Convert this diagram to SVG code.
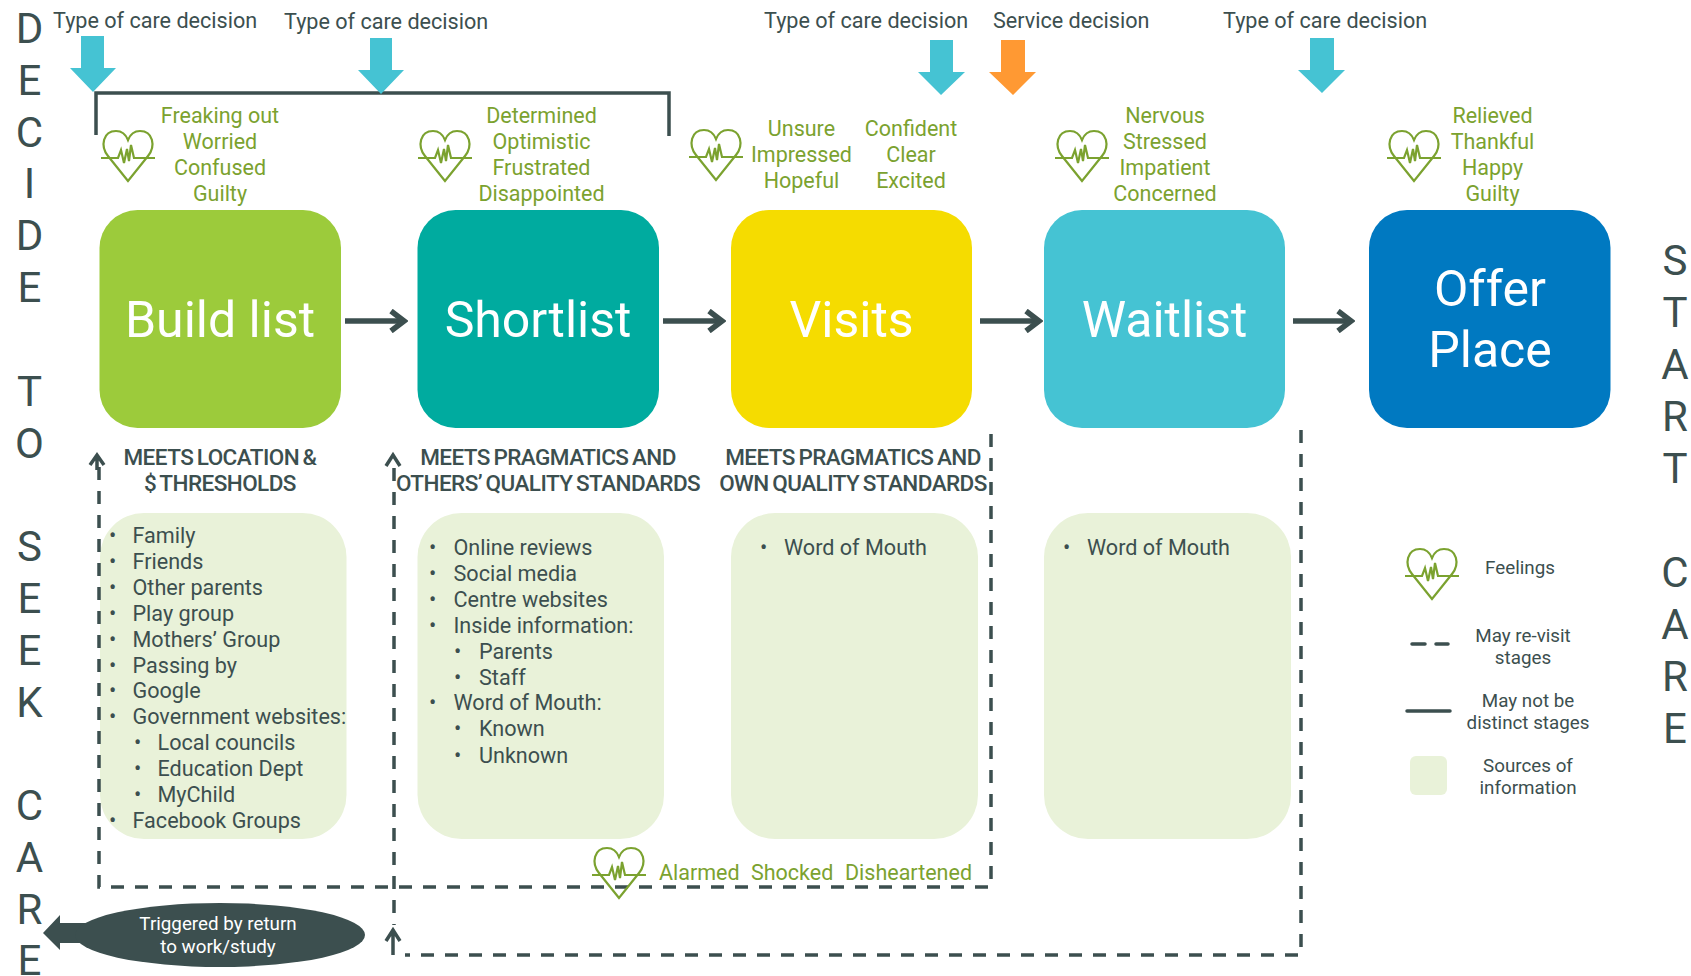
<svg xmlns="http://www.w3.org/2000/svg" width="1691" height="976" viewBox="0 0 1691 976">
<style>
text{font-family:Roboto,"Liberation Sans",sans-serif}
.big{font-size:50px;fill:#fff;text-anchor:middle}
.side{font-size:42px;fill:#3c4f4f;text-anchor:middle}
.dec{font-size:21.6px;fill:#3c4f4f}
.feel{font-size:21.5px;fill:#7ba22f;text-anchor:middle}
.hd{font-size:22.500px;font-weight:500;fill:#3c4f4f;text-anchor:middle;letter-spacing:-.55px;word-spacing:-1.5px}
.li{font-size:21.6px;fill:#3c4f4f}
.lg{font-size:18.800px;fill:#3c4f4f;text-anchor:middle}
.panel{fill:#e9f2d9}
.dash{fill:none;stroke:#3c4f4f;stroke-width:3.5;stroke-dasharray:13 11}
.solid{fill:none;stroke:#3c4f4f;stroke-width:3.5}
.flow{fill:none;stroke:#3c4f4f;stroke-width:5.500}
.open{fill:none;stroke:#3c4f4f;stroke-width:3.5}
.hb{fill:none;stroke:#7ba22f;stroke-width:2.200;stroke-linejoin:miter}
</style>
<defs>
<symbol id="heart" overflow="visible">
<path class="hb" d="M0 23L-20-2C-28-12-25-27-12-27C-6-27-2-23 0-18C2-23 6-27 12-27C25-27 28-12 20-2Z"/>
<path class="hb" d="M-27 0H-10L-7-8L-4 5L-1-9L1 3L3-13L6 0H27"/>
</symbol>
<marker id="fh" viewBox="0 0 20 24" markerWidth="20" markerHeight="24" refX="16" refY="12" orient="auto" markerUnits="userSpaceOnUse">
<path d="M3 2L16 12L3 22" fill="none" stroke="#3c4f4f" stroke-width="5.500"/>
</marker>
</defs>

<g id="side-left">
<text class="side"><tspan x="29.500" y="43">D</tspan><tspan x="29.500" y="95">E</tspan><tspan x="29.500" y="147">C</tspan><tspan x="29.500" y="198">I</tspan><tspan x="29.500" y="250">D</tspan><tspan x="29.500" y="302">E</tspan><tspan x="29.500" y="406">T</tspan><tspan x="29.500" y="458">O</tspan><tspan x="29.500" y="561">S</tspan><tspan x="29.500" y="613">E</tspan><tspan x="29.500" y="665">E</tspan><tspan x="29.500" y="717">K</tspan><tspan x="29.500" y="820">C</tspan><tspan x="29.500" y="872">A</tspan><tspan x="29.500" y="924">R</tspan><tspan x="29.500" y="975">E</tspan></text>
</g>
<g id="side-right">
<text class="side"><tspan x="1675" y="275">S</tspan><tspan x="1675" y="327">T</tspan><tspan x="1675" y="379">A</tspan><tspan x="1675" y="431">R</tspan><tspan x="1675" y="483">T</tspan><tspan x="1675" y="587">C</tspan><tspan x="1675" y="639">A</tspan><tspan x="1675" y="691">R</tspan><tspan x="1675" y="743">E</tspan></text>
</g>

<g id="panels">
<rect id="panel-build" class="panel" x="100" y="513" width="246.500" height="326" rx="44"/>
<rect id="panel-short" class="panel" x="417.500" y="513" width="246.500" height="326" rx="44"/>
<rect id="panel-visits" class="panel" x="731" y="513" width="247" height="326" rx="44"/>
<rect id="panel-wait" class="panel" x="1044" y="513" width="247" height="326" rx="44"/>
</g>

<g id="connectors">
<path class="solid" d="M96 135V93H669V136"/>
<path class="flow" d="M345 321H404" marker-end="url(#fh)"/>
<path class="flow" d="M663 321H722" marker-end="url(#fh)"/>
<path class="flow" d="M980 321H1039" marker-end="url(#fh)"/>
<path class="flow" d="M1293 321H1351" marker-end="url(#fh)"/>
<path class="dash" d="M991 434V887H99V465"/>
<path class="open" d="M97 470V455M90 465L97 455L104 465"/>
<path class="dash" d="M394 468V925"/>
<path class="open" d="M386 466L393 455L400 466"/>
<path class="dash" d="M1301 430V955H405"/>
<path class="open" d="M393 955V930M386 941L393 930L400 941"/>
</g>

<g id="decisions">
<text class="dec" x="53" y="27.500">Type of care decision</text>
<path id="arrow1" fill="#45c3d3" d="M81 36H104V68H116L93 92L70 68H81Z"/>
<text class="dec" x="284" y="29">Type of care decision</text>
<path id="arrow2" fill="#45c3d3" d="M370 38H392V70H404L381 94L358 70H370Z"/>
<text class="dec" x="764" y="27.500">Type of care decision</text>
<path id="arrow3" fill="#45c3d3" d="M930 40H953V72H965L941 95L918 72H930Z"/>
<text class="dec" x="993" y="28">Service decision</text>
<path id="arrow4" fill="#ff9933" d="M1001 40H1025V72H1036L1013 95L989 72H1001Z"/>
<text class="dec" x="1223" y="27.500">Type of care decision</text>
<path id="arrow5" fill="#45c3d3" d="M1310 38H1334V70H1345L1322 93L1298 70H1310Z"/>
</g>

<g id="node-build">
<rect x="99.500" y="210" width="241.500" height="218" rx="38" fill="#9ccb3b"/>
<text class="big" x="220" y="337">Build list</text>
<use href="#heart" x="128" y="158"/>
<text class="feel"><tspan x="220" y="122.500">Freaking out</tspan><tspan x="220" y="148.500">Worried</tspan><tspan x="220" y="174.500">Confused</tspan><tspan x="220" y="200.500">Guilty</tspan></text>
<text class="hd"><tspan x="220" y="464.500">MEETS LOCATION &amp;</tspan><tspan x="220" y="490.500">$ THRESHOLDS</tspan></text>
<text class="li"><tspan x="109" y="543">•</tspan><tspan x="132.500" y="543">Family</tspan><tspan x="109" y="569">•</tspan><tspan x="132.500" y="569">Friends</tspan><tspan x="109" y="595">•</tspan><tspan x="132.500" y="595">Other parents</tspan><tspan x="109" y="621">•</tspan><tspan x="132.500" y="621">Play group</tspan><tspan x="109" y="647">•</tspan><tspan x="132.500" y="647">Mothers’ Group</tspan><tspan x="109" y="673">•</tspan><tspan x="132.500" y="673">Passing by</tspan><tspan x="109" y="698">•</tspan><tspan x="132.500" y="698">Google</tspan><tspan x="109" y="724">•</tspan><tspan x="132.500" y="724">Government websites:</tspan><tspan x="134" y="750">•</tspan><tspan x="157.500" y="750">Local councils</tspan><tspan x="134" y="776">•</tspan><tspan x="157.500" y="776">Education Dept</tspan><tspan x="134" y="802">•</tspan><tspan x="157.500" y="802">MyChild</tspan><tspan x="109" y="828">•</tspan><tspan x="132.500" y="828">Facebook Groups</tspan></text>
</g>

<g id="node-short">
<rect x="417.500" y="210" width="241.500" height="218" rx="38" fill="#00ab9f"/>
<text class="big" x="538" y="337">Shortlist</text>
<use href="#heart" x="445" y="158"/>
<text class="feel"><tspan x="541.500" y="122.500">Determined</tspan><tspan x="541.500" y="148.500">Optimistic</tspan><tspan x="541.500" y="174.500">Frustrated</tspan><tspan x="541.500" y="200.500">Disappointed</tspan></text>
<text class="hd"><tspan x="548" y="464.500">MEETS PRAGMATICS AND</tspan><tspan x="548" y="490.500">OTHERS’ QUALITY STANDARDS</tspan></text>
<text class="li"><tspan x="429" y="555">•</tspan><tspan x="453.500" y="555">Online reviews</tspan><tspan x="429" y="581">•</tspan><tspan x="453.500" y="581">Social media</tspan><tspan x="429" y="607">•</tspan><tspan x="453.500" y="607">Centre websites</tspan><tspan x="429" y="633">•</tspan><tspan x="453.500" y="633">Inside information:</tspan><tspan x="454" y="659">•</tspan><tspan x="479" y="659">Parents</tspan><tspan x="454" y="685">•</tspan><tspan x="479" y="685">Staff</tspan><tspan x="429" y="710">•</tspan><tspan x="453.500" y="710">Word of Mouth:</tspan><tspan x="454" y="736">•</tspan><tspan x="479" y="736">Known</tspan><tspan x="454" y="762.500">•</tspan><tspan x="479" y="762.500">Unknown</tspan></text>
</g>

<g id="node-visits">
<rect x="731" y="210" width="241" height="218" rx="38" fill="#f5dc00"/>
<text class="big" x="851.500" y="337">Visits</text>
<use href="#heart" x="716" y="157"/>
<text class="feel"><tspan x="801.500" y="135.500">Unsure</tspan><tspan x="801.500" y="161.500">Impressed</tspan><tspan x="801.500" y="187.500">Hopeful</tspan></text>
<text class="feel"><tspan x="911" y="135.500">Confident</tspan><tspan x="911" y="161.500">Clear</tspan><tspan x="911" y="187.500">Excited</tspan></text>
<text class="hd"><tspan x="853" y="464.500">MEETS PRAGMATICS AND</tspan><tspan x="853" y="490.500">OWN QUALITY STANDARDS</tspan></text>
<text class="li"><tspan x="760" y="555">•</tspan><tspan x="784" y="555">Word of Mouth</tspan></text>
</g>

<g id="node-wait">
<rect x="1044" y="210" width="241" height="218" rx="38" fill="#45c3d3"/>
<text class="big" x="1164.500" y="337">Waitlist</text>
<use href="#heart" x="1082" y="158"/>
<text class="feel"><tspan x="1165" y="122.500">Nervous</tspan><tspan x="1165" y="148.500">Stressed</tspan><tspan x="1165" y="174.500">Impatient</tspan><tspan x="1165" y="200.500">Concerned</tspan></text>
<text class="li"><tspan x="1063" y="555">•</tspan><tspan x="1087" y="555">Word of Mouth</tspan></text>
</g>

<g id="node-offer">
<rect x="1369" y="210" width="241.500" height="218" rx="38" fill="#0079c1"/>
<text class="big" x="1490" y="306">Offer</text>
<text class="big" x="1490" y="367">Place</text>
<use href="#heart" x="1414" y="158"/>
<text class="feel"><tspan x="1492.500" y="122.500">Relieved</tspan><tspan x="1492.500" y="148.500">Thankful</tspan><tspan x="1492.500" y="174.500">Happy</tspan><tspan x="1492.500" y="200.500">Guilty</tspan></text>
</g>

<g id="feelings-return">
<use href="#heart" x="619" y="875"/>
<text class="feel" style="text-anchor:start"><tspan x="659" y="880">Alarmed</tspan><tspan x="751" y="880">Shocked</tspan><tspan x="845" y="880">Disheartened</tspan></text>
</g>

<g id="trigger">
<path fill="#3c4f4f" d="M43 933L60 915V923H90V943H60V950Z"/>
<ellipse cx="220" cy="935" rx="145" ry="32" fill="#3c4f4f"/>
<text class="lg" style="fill:#fff"><tspan x="218" y="930">Triggered by return</tspan><tspan x="218" y="953">to work/study</tspan></text>
</g>

<g id="legend">
<use href="#heart" x="1432" y="576"/>
<text class="lg" x="1520" y="574">Feelings</text>
<path d="M1412 644H1425M1436 644H1448" fill="none" stroke="#3c4f4f" stroke-width="3.5" stroke-linecap="round"/>
<text class="lg"><tspan x="1523" y="642">May re-visit</tspan><tspan x="1523" y="664">stages</tspan></text>
<path d="M1407 711H1450" fill="none" stroke="#3c4f4f" stroke-width="3.5" stroke-linecap="round"/>
<text class="lg"><tspan x="1528" y="707">May not be</tspan><tspan x="1528" y="729">distinct stages</tspan></text>
<rect class="panel" x="1410" y="756" width="37" height="39" rx="6"/>
<text class="lg"><tspan x="1528" y="772">Sources of</tspan><tspan x="1528" y="794">information</tspan></text>
</g>
</svg>
